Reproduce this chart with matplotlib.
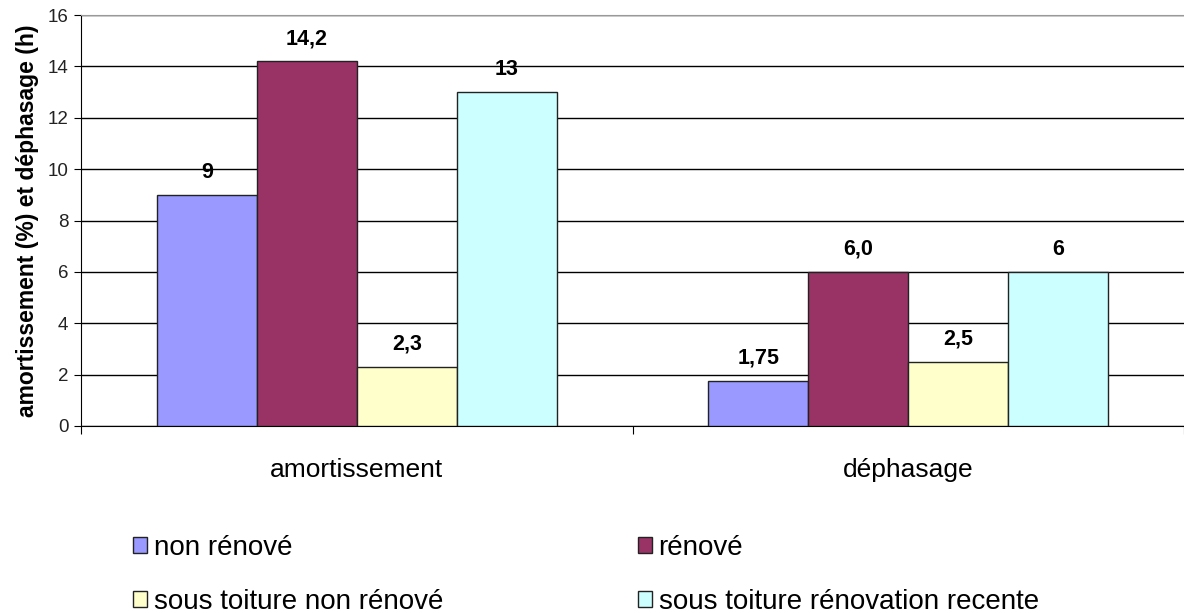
import matplotlib.pyplot as plt
from matplotlib.patches import Patch
import numpy as np

plt.rcParams['font.family'] = ['Liberation Sans', 'DejaVu Sans']

categories = ['amortissement', 'déphasage']
series_names = ['non rénové', 'rénové', 'sous toiture non rénové', 'sous toiture rénovation recente']
values = [
    [9, 1.75],
    [14.2, 6.0],
    [2.3, 2.5],
    [13, 6],
]
value_labels = [
    ['9', '1,75'],
    ['14,2', '6,0'],
    ['2,3', '2,5'],
    ['13', '6'],
]
colors = ['#9999FF', '#993366', '#FFFFCC', '#CCFFFF']
yticks = [0, 2, 4, 6, 8, 10, 12, 14, 16]

fig = plt.figure(figsize=(11.84, 6.13), dpi=100)
ax = fig.add_axes([81 / 1184, 1 - 426 / 613, 1 - 81 / 1184, 411 / 613])

x = np.arange(len(categories))
w = 100 / 552
for i, (vals, labs) in enumerate(zip(values, value_labels)):
    pos = x + (i - 1.5) * w
    ax.bar(pos, vals, width=w, color=colors[i], edgecolor='#222222', linewidth=1, zorder=3)
    for p, v, l in zip(pos, vals, labs):
        ax.text(p, v + 0.88, l, ha='center', va='center', fontsize=15.5, fontweight='bold', zorder=4)

ax.set_xlim(-0.5, 1.5)
ax.set_ylim(0, 16)
ax.set_yticks(yticks)
ax.set_yticklabels([str(t) for t in yticks], fontsize=13.5, color='#222222')
ax.yaxis.grid(True, color='black', linewidth=1, zorder=0)
ax.set_axisbelow(True)

# category ticks at the boundaries, labels in the middle
ax.set_xticks([-0.5, 0.5, 1.5])
ax.set_xticklabels([])
ax.set_xticks(x, minor=True)
ax.set_xticklabels(categories, minor=True, fontsize=19)
ax.tick_params(axis='x', which='minor', length=0, pad=23)
ax.tick_params(axis='x', which='major', length=6, direction='out')
ax.tick_params(axis='y', length=5, direction='out', pad=4)

ax.spines['top'].set_color('#999999')
ax.spines['right'].set_visible(False)
ax.spines['left'].set_color('black')
ax.spines['bottom'].set_color('black')

ax.set_ylabel('amortissement (%) et déphasage (h)', fontsize=16.5, fontweight='bold', labelpad=6)

# legend is filled row by row in the reference
order = [0, 2, 1, 3]
handles = [Patch(facecolor=colors[k], edgecolor='#222222', linewidth=1) for k in order]
labels = [series_names[k] for k in order]
fig.legend(handles, labels, loc='upper left', bbox_to_anchor=(0.103, 0.145),
           ncol=2, frameon=False, fontsize=20, columnspacing=7.0, borderaxespad=0,
           handlelength=0.5, handleheight=0.5, handletextpad=0.25, labelspacing=1.0)

fig.savefig('out.png', dpi=100)
